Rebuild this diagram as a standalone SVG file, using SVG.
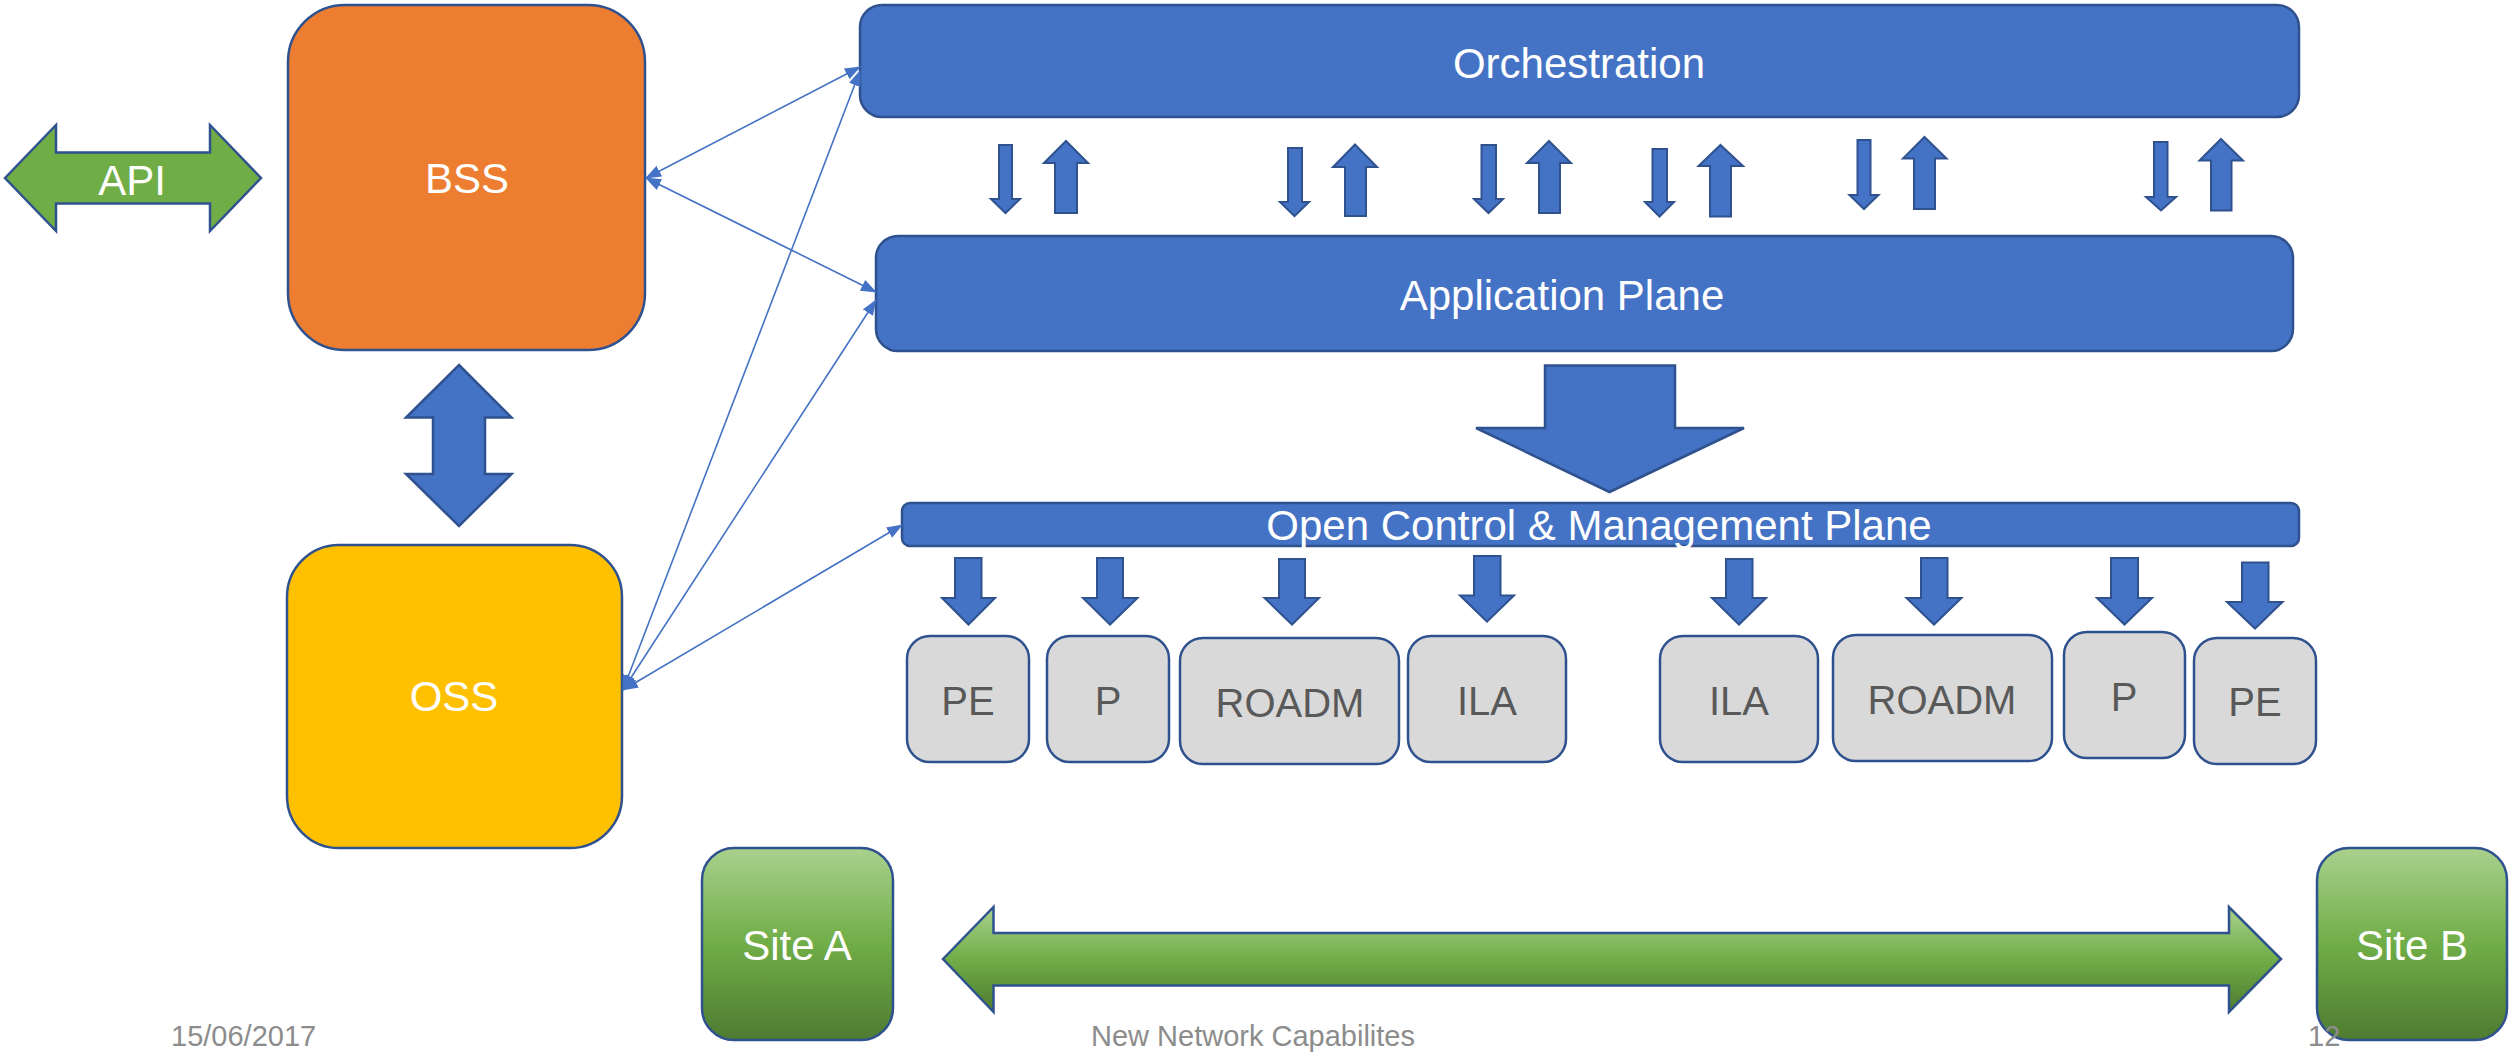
<svg xmlns="http://www.w3.org/2000/svg" width="2509" height="1053" viewBox="0 0 2509 1053">
<style>
.blue{fill:#4472C4;stroke:#2F528F;stroke-width:2.5}
.sarr{fill:#4472C4;stroke:#2F528F;stroke-width:2}
.dev{fill:#D9D9D9;stroke:#2F528F;stroke-width:2.5}
.site{fill:url(#gg);stroke:#2F528F;stroke-width:2.5}
.wt{font-family:"Liberation Sans",Arial,sans-serif;font-size:42px;fill:#FFFFFF;text-anchor:middle}
.dt{font-family:"Liberation Sans",Arial,sans-serif;font-size:40px;fill:#595959;text-anchor:middle}
.ft{font-family:"Liberation Sans",Arial,sans-serif;font-size:29px;fill:#8C8C8C}
.con{stroke:#4472C4;stroke-width:1.6;fill:none;marker-start:url(#ah);marker-end:url(#ah)}
</style>
<defs>
<linearGradient id="gg" x1="0" y1="0" x2="0" y2="1">
<stop offset="0" stop-color="#A9D18E"/>
<stop offset="0.5" stop-color="#70AD47"/>
<stop offset="1" stop-color="#4E7B31"/>
</linearGradient>
<marker id="ah" viewBox="0 0 16 12" refX="15" refY="6" markerWidth="16" markerHeight="12" markerUnits="userSpaceOnUse" orient="auto-start-reverse">
<path d="M0,0 L16,6 L0,12 Z" fill="#4472C4"/>
</marker>
</defs>
<rect width="2509" height="1053" fill="#FFFFFF"/>

<g id="api">
<path d="M5,178 L56,125 V152.5 H210 V125 L261,178 L210,231 V203.5 H56 V231 Z" fill="#70AD47" stroke="#2F528F" stroke-width="2.5"/>
<text class="wt" x="132" y="195">API</text>
</g>

<g id="bss">
<rect x="288" y="5" width="357" height="345" rx="57" ry="57" fill="#ED7D31" stroke="#2F528F" stroke-width="2.5"/>
<text class="wt" x="467" y="193">BSS</text>
</g>

<g id="bss-oss-arrow">
<path d="M459,365 L511.5,417.5 H485 V474 H511.5 L459,526 L406,474 H433 V417.5 H406 Z" class="blue"/>
</g>

<g id="oss">
<rect x="287" y="545" width="335" height="303" rx="52" ry="52" fill="#FFC000" stroke="#2F528F" stroke-width="2.5"/>
<text class="wt" x="454" y="711">OSS</text>
</g>

<g id="orchestration">
<rect x="860" y="5" width="1439" height="112" rx="22" ry="22" class="blue"/>
<text class="wt" x="1579" y="78">Orchestration</text>
</g>

<g id="application-plane">
<rect x="876" y="236" width="1417" height="115" rx="22" ry="22" class="blue"/>
<text class="wt" x="1562" y="310">Application Plane</text>
</g>

<g id="big-down-arrow">
<path d="M1545,365.5 H1675 V428 H1744 L1609.5,492 L1476,428 H1545 Z" class="blue"/>
</g>

<g id="open-control">
<rect x="902" y="503" width="1397" height="43" rx="8" ry="8" class="blue"/>
<text class="wt" x="1599" y="540">Open Control &amp; Management Plane</text>
</g>

<g id="orch-app-arrows">
<path class="sarr" d="M999,145 H1012 V199 H1020 L1005.5,213 L991,199 H999 Z"/>
<path class="sarr" d="M1066,141 L1088,163 H1077 V213 H1055 V163 H1044 Z"/>
<path class="sarr" d="M1288,148 H1302 V202 H1309 L1294.5,216 L1280,202 H1288 Z"/>
<path class="sarr" d="M1355,144.5 L1377,167 H1366 V216 H1345 V167 H1333 Z"/>
<path class="sarr" d="M1481.5,145 H1496 V199 H1503 L1488.5,213 L1474,199 H1481.5 Z"/>
<path class="sarr" d="M1549,141 L1571,163 H1560 V213 H1539 V163 H1527 Z"/>
<path class="sarr" d="M1652.5,149 H1667 V202 H1674 L1659.5,216.5 L1645,202 H1652.5 Z"/>
<path class="sarr" d="M1720.5,145 L1743,166 H1731 V216.5 H1710 V166 H1698.5 Z"/>
<path class="sarr" d="M1857.5,140 H1870.5 V195 H1878.5 L1864,209 L1849.5,195 H1857.5 Z"/>
<path class="sarr" d="M1924.5,137 L1946.5,158.5 H1935 V209 H1914 V158.5 H1903 Z"/>
<path class="sarr" d="M2154,142 H2167.5 V197 H2176 L2161,210.5 L2146,197 H2154 Z"/>
<path class="sarr" d="M2221,139 L2243,160.5 H2231.5 V210.5 H2211 V160.5 H2199.5 Z"/>
</g>

<g id="control-device-arrows">
<path class="sarr" d="M955,558 H981.5 V598 H995 L968.5,624.5 L942,598 H955 Z"/>
<path class="sarr" d="M1097,558 H1123 V598 H1137.5 L1110,624.5 L1083,598 H1097 Z"/>
<path class="sarr" d="M1279,559 H1305 V598 H1319 L1292,624.5 L1264.5,598 H1279 Z"/>
<path class="sarr" d="M1474,556 H1500.5 V595.5 H1514 L1487,621.5 L1460,595.5 H1474 Z"/>
<path class="sarr" d="M1726,559 H1752.5 V598 H1766 L1739,624.5 L1712,598 H1726 Z"/>
<path class="sarr" d="M1921,558 H1947.5 V598 H1961.5 L1934,624.5 L1906.5,598 H1921 Z"/>
<path class="sarr" d="M2111,558 H2138 V598 H2152 L2124.5,624.5 L2097,598 H2111 Z"/>
<path class="sarr" d="M2242,562.5 H2268.5 V602 H2282.5 L2255,628.5 L2227,602 H2242 Z"/>
</g>

<g id="pe-a">
<rect class="dev" x="907" y="636" width="122" height="126" rx="23" ry="23"/>
<text class="dt" x="968" y="715">PE</text>
</g>
<g id="p-a">
<rect class="dev" x="1047" y="636" width="122" height="126" rx="23" ry="23"/>
<text class="dt" x="1108" y="715">P</text>
</g>
<g id="roadm-a">
<rect class="dev" x="1180" y="638" width="219" height="126" rx="23" ry="23"/>
<text class="dt" x="1290" y="717">ROADM</text>
</g>
<g id="ila-a">
<rect class="dev" x="1408" y="636" width="158" height="126" rx="23" ry="23"/>
<text class="dt" x="1487" y="715">ILA</text>
</g>
<g id="ila-b">
<rect class="dev" x="1660" y="636" width="158" height="126" rx="23" ry="23"/>
<text class="dt" x="1739" y="715">ILA</text>
</g>
<g id="roadm-b">
<rect class="dev" x="1833" y="635" width="219" height="126" rx="23" ry="23"/>
<text class="dt" x="1942" y="714">ROADM</text>
</g>
<g id="p-b">
<rect class="dev" x="2064" y="632" width="121" height="126" rx="23" ry="23"/>
<text class="dt" x="2124" y="711">P</text>
</g>
<g id="pe-b">
<rect class="dev" x="2194" y="638" width="122" height="126" rx="23" ry="23"/>
<text class="dt" x="2255" y="716">PE</text>
</g>

<g id="site-a">
<rect class="site" x="702" y="848" width="191" height="192" rx="32" ry="32"/>
<text class="wt" x="797" y="960">Site A</text>
</g>
<g id="site-b">
<rect class="site" x="2317" y="848" width="190" height="192" rx="32" ry="32"/>
<text class="wt" x="2412" y="960">Site B</text>
</g>

<g id="site-link">
<path d="M943,959 L993.5,907 V933 H2229 V907 L2281,959 L2229,1012 V985.5 H993.5 V1012 Z" fill="url(#gg)" stroke="#2F528F" stroke-width="2.5"/>
</g>

<g id="connectors">
<line class="con" x1="646" y1="178" x2="860" y2="67"/>
<line class="con" x1="646" y1="178" x2="876" y2="292"/>
<line class="con" x1="623" y1="690" x2="860" y2="71"/>
<line class="con" x1="623" y1="690" x2="876" y2="300"/>
<line class="con" x1="623" y1="690" x2="902" y2="525"/>
</g>

<g id="footer">
<text class="ft" x="171" y="1046">15/06/2017</text>
<text class="ft" x="1091" y="1046">New Network Capabilites</text>
<text class="ft" x="2308" y="1046">12</text>
</g>
</svg>
